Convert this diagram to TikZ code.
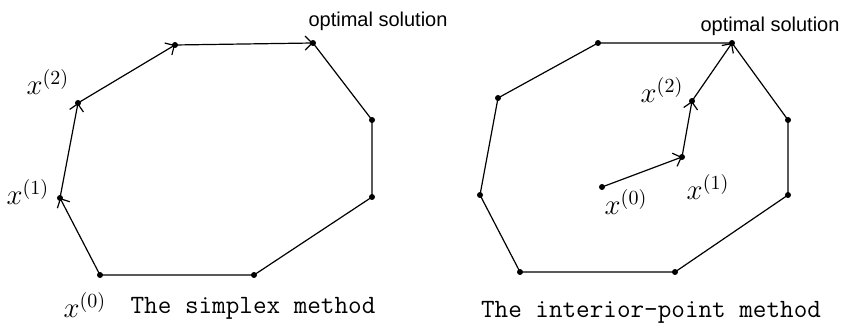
\documentclass[tikz,border=0pt]{standalone}
\usepackage{fontspec}
\newfontfamily\optfont{Liberation Sans}
\usetikzlibrary{arrows.meta}
\begin{document}
\begin{tikzpicture}[x=0.5pt,y=-0.5pt,line width=0.6pt,
  move/.style={-{Straight Barb[length=3.5pt,width=7pt]}},
  iterate/.style={font=\fontsize{14}{16}\selectfont,inner sep=0pt},
  opt/.style={font=\optfont\fontsize{10}{12}\selectfont,inner sep=0pt},
  caption/.style={font=\ttfamily\fontsize{13.2}{15}\selectfont,inner sep=0pt}]
  \useasboundingbox (0,0) rectangle (844,325);
  % the simplex method
  \coordinate (s0) at (100,275);
  \coordinate (s1) at (60,198);
  \coordinate (s2) at (78,103);
  \coordinate (sa) at (175,45);
  \coordinate (sopt) at (313,43);
  \coordinate (sb) at (372,120);
  \coordinate (sc) at (372,197);
  \coordinate (sd) at (254,275);
  \draw (sopt) -- (sb) -- (sc) -- (sd) -- (s0);
  \draw[move] (s0) -- (s1);
  \draw[move] (s1) -- (s2);
  \draw[move] (s2) -- (sa);
  \draw[move] (sa) -- (sopt);
  \foreach \p in {s0,s1,s2,sa,sopt,sb,sc,sd}
    \fill (\p) circle (1.5pt);
  \node[iterate] (sx0) at (85,305) {$x^{(0)}$};
  \node[iterate] (sx1) at (28,192) {$x^{(1)}$};
  \node[iterate] (sx2) at (48,82) {$x^{(2)}$};
  \node[opt] (slabel) at (378,21) {optimal solution};
  \node[caption] (scap) at (253,308) {The simplex method};
  % the interior-point method
  \coordinate (pa) at (598,43);
  \coordinate (popt) at (732,43);
  \coordinate (pb) at (788,120);
  \coordinate (pc) at (788,195);
  \coordinate (pd) at (675,272);
  \coordinate (pe) at (520,272);
  \coordinate (pf) at (480,195);
  \coordinate (pg) at (498,98);
  \draw (pa) -- (popt) -- (pb) -- (pc) -- (pd) -- (pe) -- (pf) -- (pg) -- cycle;
  \coordinate (p0) at (602,187);
  \coordinate (p1) at (682,157);
  \coordinate (p2) at (692,101);
  \draw[move] (p0) -- (p1);
  \draw[move] (p1) -- (p2);
  \draw[move] (p2) -- (popt);
  \foreach \p in {pa,popt,pb,pc,pd,pe,pf,pg,p0,p1,p2}
    \fill (\p) circle (1.5pt);
  \node[iterate] (px0) at (626,202) {$x^{(0)}$};
  \node[iterate] (px1) at (708,187) {$x^{(1)}$};
  \node[iterate] (px2) at (662,90) {$x^{(2)}$};
  \node[opt] (plabel) at (770,26) {optimal solution};
  \node[caption] (pcap) at (651,312) {The interior-point method};
\end{tikzpicture}
\end{document}
